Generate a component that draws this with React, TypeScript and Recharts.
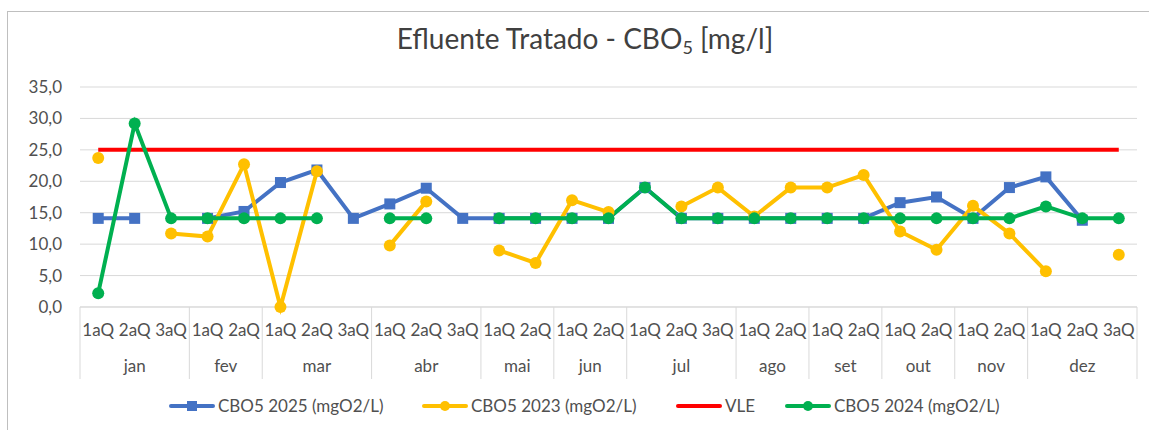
import React from 'react';
import { LineChart, Line, XAxis, YAxis, CartesianGrid, Legend } from 'recharts';

const QUINZENAS = [
  '1aQ', '2aQ', '3aQ', '1aQ', '2aQ', '1aQ', '2aQ', '3aQ', '1aQ', '2aQ', '3aQ',
  '1aQ', '2aQ', '1aQ', '2aQ', '1aQ', '2aQ', '3aQ', '1aQ', '2aQ', '1aQ', '2aQ',
  '1aQ', '2aQ', '1aQ', '2aQ', '1aQ', '2aQ', '3aQ',
];
const MESES = [
  'jan', 'jan', 'jan', 'fev', 'fev', 'mar', 'mar', 'mar', 'abr', 'abr', 'abr',
  'mai', 'mai', 'jun', 'jun', 'jul', 'jul', 'jul', 'ago', 'ago', 'set', 'set',
  'out', 'out', 'nov', 'nov', 'dez', 'dez', 'dez',
];

const CBO5_2025 = [
  14.1, 14.1, null, 14.1, 15.2, 19.8, 21.8, 14.1, 16.4, 18.9, 14.1,
  14.1, 14.1, 14.1, 14.1, 19.0, 14.1, 14.1, 14.1, 14.1, 14.1, 14.1,
  16.6, 17.5, 14.1, 19.0, 20.7, 13.8, null,
];
const CBO5_2023 = [
  23.7, null, 11.7, 11.2, 22.7, 0, 21.6, null, 9.8, 16.8, null,
  9.0, 7.0, 17.0, 15.1, null, 16.0, 19.0, 14.4, 19.0, 19.0, 21.0,
  12.0, 9.1, 16.1, 11.7, 5.7, null, 8.3,
];
const VLE = [
  25, 25, 25, 25, 25, 25, 25, 25, 25, 25, 25, 25, 25, 25, 25,
  25, 25, 25, 25, 25, 25, 25, 25, 25, 25, 25, 25, 25, 25,
];
const CBO5_2024 = [
  2.2, 29.2, 14.1, 14.1, 14.1, 14.1, 14.1, null, 14.1, 14.1, null,
  14.1, 14.1, 14.1, 14.1, 19.0, 14.1, 14.1, 14.1, 14.1, 14.1, 14.1,
  14.1, 14.1, 14.1, 14.1, 16.0, 14.1, 14.1,
];
const Y_TICKS = [0, 5, 10, 15, 20, 25, 30, 35];

const data = QUINZENAS.map((q, i) => ({
  key: `${MESES[i]} ${q}`,
  c2025: CBO5_2025[i],
  c2023: CBO5_2023[i],
  vle: VLE[i],
  c2024: CBO5_2024[i],
}));

const FONT = 'Lato, "DejaVu Sans", sans-serif';
const W = 1149;
const H = 430;
const PLOT_LEFT = 80;
const PLOT_RIGHT = 1137;
const GRID = '#d9d9d9';
const TEXT = '#505050';

const BLUE = '#4472C4';
const YELLOW = '#FFC000';
const RED = '#FF0000';
const GREEN = '#00B050';

// two-level category axis: quinzena on the first row, month (with separators) below
const QuinzenaTick = (props: any) => {
  const { x, y, payload } = props;
  const i = payload.index;
  const band = props.width / QUINZENAS.length;
  const first = i === 0 || MESES[i] !== MESES[i - 1];
  let len = 0;
  if (first) {
    while (i + len < MESES.length && MESES[i + len] === MESES[i]) len++;
  }
  const left = x - band / 2;
  return (
    <g>
      <text x={x} y={y + 29} textAnchor="middle" fontSize={17} fill={TEXT} fontFamily={FONT}>
        {QUINZENAS[i]}
      </text>
      {first && <line x1={left} x2={left} y1={y} y2={y + 72} stroke={GRID} />}
      {first && (
        <text x={left + (len * band) / 2} y={y + 65} textAnchor="middle" fontSize={17} fill={TEXT} fontFamily={FONT}>
          {MESES[i]}
        </text>
      )}
      {i === QUINZENAS.length - 1 && (
        <line x1={x + band / 2} x2={x + band / 2} y1={y} y2={y + 72} stroke={GRID} />
      )}
    </g>
  );
};

const ValueTick = (props: any) => {
  const { y, payload } = props;
  return (
    <text x={PLOT_LEFT - 18} y={y} dy="0.355em" textAnchor="end" fontSize={17} fill={TEXT} fontFamily={FONT}>
      {Number(payload.value).toFixed(1).replace('.', ',')}
    </text>
  );
};

const squareDot = (p: any) => {
  if (p.value == null || p.cy == null) return <g key={`sq-${p.index}`} />;
  return <rect key={`sq-${p.index}`} x={p.cx - 5.5} y={p.cy - 5.5} width={11} height={11} fill={BLUE} />;
};

const circleDot = (color: string) => (p: any) => {
  if (p.value == null || p.cy == null) return <g key={`c-${color}-${p.index}`} />;
  return <circle key={`c-${color}-${p.index}`} cx={p.cx} cy={p.cy} r={6} fill={color} />;
};

const LEGEND_ITEMS = [
  { name: 'CBO5 2025 (mgO2/L)', color: BLUE, marker: 'square', left: 169 },
  { name: 'CBO5 2023 (mgO2/L)', color: YELLOW, marker: 'circle', left: 422 },
  { name: 'VLE', color: RED, marker: 'none', left: 676 },
  { name: 'CBO5 2024 (mgO2/L)', color: GREEN, marker: 'circle', left: 785 },
];

const LegendContent = () => (
  <div style={{ position: 'relative', height: 24, fontFamily: FONT, fontSize: 17, color: TEXT }}>
    {LEGEND_ITEMS.map((it) => (
      <div
        key={it.name}
        style={{ position: 'absolute', left: it.left, top: 0, display: 'flex', alignItems: 'center', gap: 3, whiteSpace: 'nowrap' }}
      >
        <svg width={46} height={12}>
          <line x1={2} x2={44} y1={6} y2={6} stroke={it.color} strokeWidth={4} strokeLinecap="round" />
          {it.marker === 'square' && <rect x={18} y={1} width={10} height={10} fill={it.color} />}
          {it.marker === 'circle' && <circle cx={23} cy={6} r={5} fill={it.color} />}
        </svg>
        <span>{it.name}</span>
      </div>
    ))}
  </div>
);

export default function App() {
  return (
    <div style={{ position: 'absolute', left: 0, top: 0, width: W, height: H, background: '#fff', overflow: 'hidden' }}>
      <div style={{ position: 'absolute', left: 7, top: 11, width: W, height: H, border: '1px solid #bfbfbf' }} />
      <div
        style={{
          position: 'absolute', left: 0, top: 21, width: 1170, textAlign: 'center',
          fontFamily: FONT, fontSize: 28, color: '#404040', whiteSpace: 'nowrap',
        }}
      >
        Efluente Tratado - CBO<sub style={{ fontSize: 18, verticalAlign: -5 }}>5</sub> [mg/l]
      </div>
      <LineChart
        width={W}
        height={H}
        data={data}
        margin={{ top: 87, right: W - PLOT_RIGHT, bottom: 43, left: 0 }}
      >
        <CartesianGrid vertical={false} stroke={GRID} />
        <XAxis
          dataKey="key"
          scale="band"
          height={80}
          interval={0}
          tickSize={0}
          tickMargin={0}
          tickLine={false}
          axisLine={{ stroke: GRID }}
          tick={<QuinzenaTick />}
        />
        <YAxis
          width={PLOT_LEFT}
          domain={[0, 35]}
          ticks={Y_TICKS}
          axisLine={false}
          tickLine={false}
          tick={<ValueTick />}
        />
        <Line dataKey="c2025" name="CBO5 2025 (mgO2/L)" stroke={BLUE} strokeWidth={4} dot={squareDot} isAnimationActive={false} />
        <Line dataKey="c2023" name="CBO5 2023 (mgO2/L)" stroke={YELLOW} strokeWidth={4} dot={circleDot(YELLOW)} isAnimationActive={false} />
        <Line dataKey="vle" name="VLE" stroke={RED} strokeWidth={4} dot={false} isAnimationActive={false} />
        <Line dataKey="c2024" name="CBO5 2024 (mgO2/L)" stroke={GREEN} strokeWidth={4} dot={circleDot(GREEN)} isAnimationActive={false} />
        <Legend
          layout="horizontal"
          verticalAlign="middle"
          align="center"
          content={<LegendContent />}
          wrapperStyle={{ top: 395, left: 0, width: W }}
        />
      </LineChart>
    </div>
  );
}
